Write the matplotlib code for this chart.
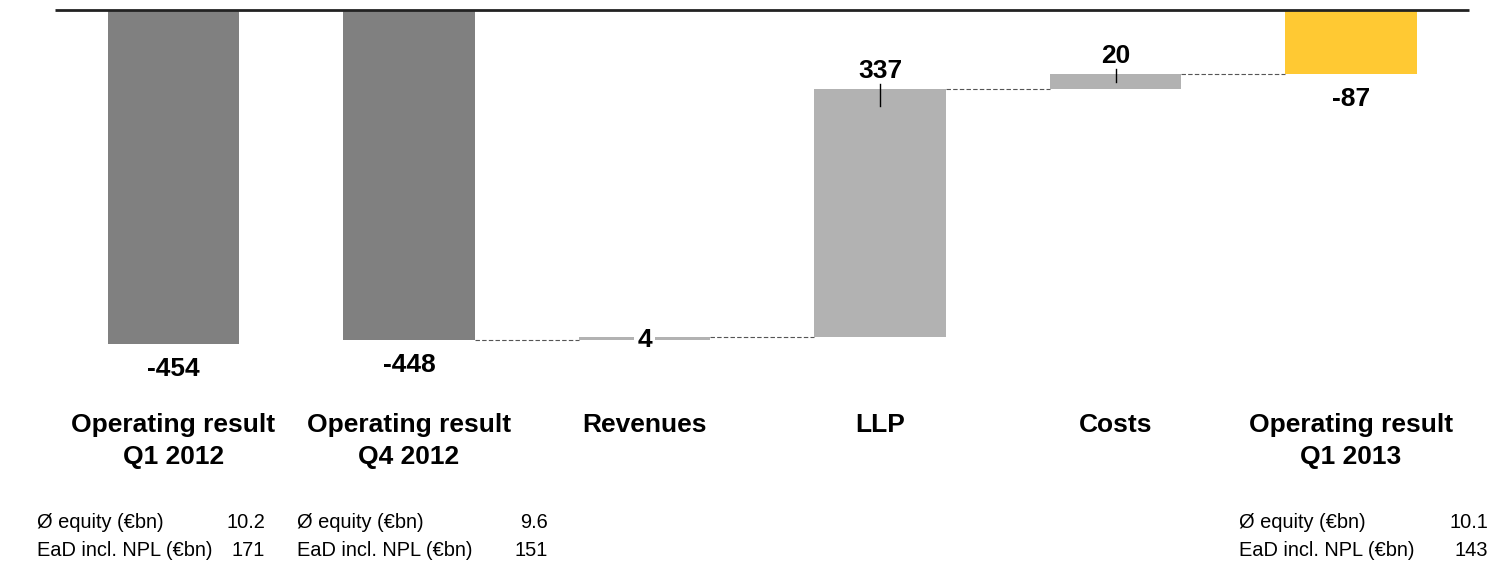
import matplotlib.pyplot as plt
import numpy as np

plt.rcParams['font.family'] = ['Liberation Sans', 'DejaVu Sans']

# waterfall data (EUR m)
categories = ['Operating result\nQ1 2012', 'Operating result\nQ4 2012', 'Revenues',
              'LLP', 'Costs', 'Operating result\nQ1 2013']
values = [-454, -448, 4, 337, 20, -87]
kinds = ['total', 'total', 'delta', 'delta', 'delta', 'total']
bar_colors = ['#808080', '#808080', '#b2b2b2', '#b2b2b2', '#b2b2b2', '#ffc933']

# side tables below the chart
table_labels = ['Ø equity (€bn)', 'EaD incl. NPL (€bn)']
table_q1_2012 = ['10.2', '171']
table_q4_2012 = ['9.6', '151']
table_q1_2013 = ['10.1', '143']

W, H = 1492, 564
fig = plt.figure(figsize=(W / 100, H / 100), dpi=100)
ax = fig.add_axes([0, 0, 1, 1])
ax.axis('off')

# pixel layout -> data limits
step_px = 235.5
x0_px = 173.5
px_per_unit = 0.7357
top_px = 10
ax.set_xlim(-x0_px / step_px, (W - x0_px) / step_px)
ytop = top_px / px_per_unit
ax.set_ylim(ytop - H / px_per_unit, ytop)

def px2y(p):
    return ytop - p / px_per_unit

x = np.arange(len(values))
width = 0.56

bottoms, tops = [], []
level = 0
for v, k in zip(values, kinds):
    if k == 'total':
        level = v
        bottoms.append(min(0, v))
        tops.append(max(0, v))
    else:
        start = level
        level = level + v
        bottoms.append(min(start, level))
        tops.append(max(start, level))

bottoms = np.array(bottoms)
tops = np.array(tops)
ax.bar(x, tops - bottoms, bottom=bottoms, width=width, color=bar_colors, zorder=2)

# baseline
ax.plot([-0.505, 5.5], [0, 0], color='#222222', lw=2, zorder=3, solid_capstyle='butt')

# connectors between bars (none between two consecutive totals)
level = 0
ends = []
for v, k in zip(values, kinds):
    level = v if k == 'total' else level + v
    ends.append(level)
for i in range(len(values) - 1):
    if kinds[i] == 'total' and kinds[i + 1] == 'total':
        continue
    ax.plot([x[i] + width / 2, x[i + 1] - width / 2], [ends[i], ends[i]],
            color='#555555', lw=0.8, ls=(0, (4, 2)), zorder=1)

# value labels
lab_kw = dict(fontsize=19, fontweight='bold', ha='center', color='black')
for i, (v, k) in enumerate(zip(values, kinds)):
    if k == 'total':
        ax.text(x[i], bottoms[i] - 13 / px_per_unit, f'{v}', va='top', **lab_kw)
    elif abs(v) < 10:
        ax.text(x[i], (bottoms[i] + tops[i]) / 2 - 2 / px_per_unit, f'{v}', va='center',
                bbox=dict(facecolor='white', edgecolor='none', pad=2), zorder=4, **lab_kw)
    else:
        ax.text(x[i], tops[i] + 6 / px_per_unit, f'{v}', va='bottom', **lab_kw)

# leader ticks on the positive deltas
leader_px = {3: (5, 17), 4: (5, 8)}
for i, (up, down) in leader_px.items():
    ax.plot([x[i], x[i]], [tops[i] + up / px_per_unit, tops[i] - down / px_per_unit],
            color='black', lw=1, zorder=4)

# category labels
for i, c in enumerate(categories):
    for j, line in enumerate(c.split('\n')):
        ax.text(x[i], px2y(425 + 32 * j), line, fontsize=19, fontweight='bold',
                ha='center', va='center')

# tables
def draw_table(left_px, right_px, vals):
    for j, (lab, val) in enumerate(zip(table_labels, vals)):
        yy = 1 - (522 + 29 * j) / H
        fig.text(left_px / W, yy, lab, fontsize=14.4, ha='left', va='center')
        fig.text(right_px / W, yy, val, fontsize=14.4, ha='right', va='center')

draw_table(37, 265, table_q1_2012)
draw_table(297, 548, table_q4_2012)
draw_table(1239, 1488, table_q1_2013)

fig.savefig('out.png', dpi=100)
